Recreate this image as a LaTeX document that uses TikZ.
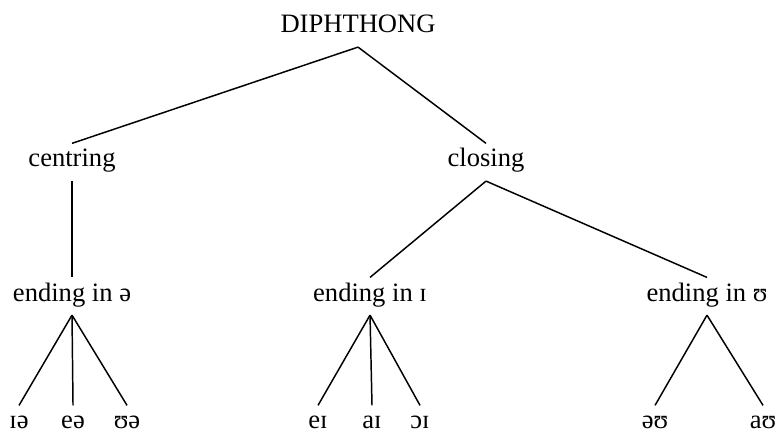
\documentclass[tikz,border=0pt]{standalone}
\usepackage{fontspec}
\setmainfont{Liberation Serif}
\usepackage{tikz}

\tikzset{
  lbl/.style={anchor=base, inner sep=4pt, text height=0.7em, text depth=0.25em,
              font=\fontsize{12.6}{14}\selectfont},
  branch/.style={line width=0.7pt}
}

\begin{document}
\begin{tikzpicture}

\useasboundingbox (0,0) rectangle (13,7.2);

%%% --- Top and middle levels --- %%%
\node[lbl] (dip) at (5.967,6.65) {DIPHTHONG};

\node[lbl] (cen) at (1.2,4.417) {centring};
\node[lbl] (clo) at (8.1,4.417) {closing};

\node[lbl] (endA) at (1.2,2.183)    {ending in ə};
\node[lbl] (endI) at (6.167,2.183)  {ending in ɪ};
\node[lbl] (endU) at (11.783,2.183) {ending in ʊ};


%%% --- Diphthongs --- %%%
\foreach \n/\x/\t in {ie/0.317/ɪə, ea/1.217/eə, ua/2.117/ʊə,
                      ei/5.3/eɪ, ai/6.2/aɪ, oi/7.0/ɔɪ,
                      ou/10.917/əʊ, au/12.717/aʊ}
  \node[lbl] (\n) at (\x,0.05) {\t};


%%% --- Branches --- %%%
\foreach \p/\c in {dip/cen, dip/clo, cen/endA, clo/endI, clo/endU,
                   endA/ie, endA/ea, endA/ua,
                   endI/ei, endI/ai, endI/oi,
                   endU/ou, endU/au}
  \draw[branch] (\p.south) -- (\c.north);

\end{tikzpicture}
\end{document}
